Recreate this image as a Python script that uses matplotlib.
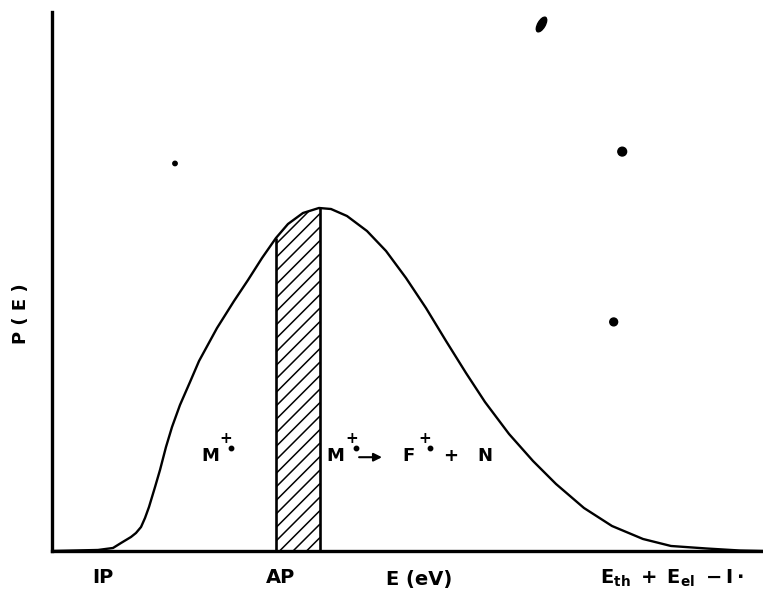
import numpy as np
import matplotlib
matplotlib.use("Agg")
import matplotlib.pyplot as plt
from matplotlib.markers import MarkerStyle
from matplotlib.transforms import Affine2D
from matplotlib.collections import LineCollection

# ---- data (arbitrary units: energy 0-100, probability 0-100) ----
energy = [0.0, 6.47, 8.58, 9.70, 11.11, 11.81, 12.52, 13.08, 13.64, 14.49, 15.19, 16.03,
          16.88, 18.00, 19.41, 20.68, 23.21, 25.60, 27.57, 29.54, 31.50, 33.19, 35.30,
          37.55, 39.24, 41.49, 44.30, 46.98, 49.79, 52.60, 55.42, 58.23, 60.90,
          64.28, 67.65, 70.89, 74.82, 78.76, 83.12, 87.06, 92.12, 96.77, 100.0]
prob = [0.0, 0.19, 0.56, 1.48, 2.60, 3.34, 4.45, 6.12, 8.16, 11.87, 15.03, 19.29,
        23.01, 27.09, 31.35, 35.25, 41.37, 46.38, 50.28, 54.36, 58.07, 60.67, 62.71,
        63.64, 63.45, 62.15, 59.37, 55.66, 50.65, 45.08, 38.96, 33.02, 27.64,
        21.71, 16.70, 12.43, 7.98, 4.64, 2.23, 0.93, 0.46, 0.09, 0.0]

band_lo, band_hi = 31.5, 37.7          # hatched AP window

tick_pos = [7.2, 32.2, 87.2]
tick_labels = ["IP", "AP", r"$\mathregular{E_{th}\ +\ E_{el}\ -I\cdot}$"]

speck_x = [17.3, 80.2, 79.0]
speck_y = [71.9, 74.1, 42.5]
speck_s = [10, 40, 32]
blot_x, blot_y = [68.8], [97.8]

E = np.array(energy)
P = np.array(prob)

fig = plt.figure(figsize=(7.63, 5.99), dpi=100)
ax = fig.add_axes([52 / 763, 48 / 599, 711 / 763, 539 / 599])
ax.set_xlim(0, 100)
ax.set_ylim(0, 100)

# curve
ax.plot(E, P, color="black", lw=1.7, solid_joinstyle="round", solid_capstyle="round", zorder=3)

# hatched band (45 degree lines clipped to the area under the curve)
mask = (E > band_lo) & (E < band_hi)
xs = np.concatenate([[band_lo], E[mask], [band_hi]])
ys = np.interp(xs, E, P)
poly = ax.fill_between(xs, 0, ys, facecolor="none", edgecolor="none", lw=0, zorder=2)
kx = 7.11 / 5.39                        # data slope for a 45 degree line on screen
rise = (band_hi - band_lo) * kx
offsets = np.arange(-rise, 70, 13.5 / 5.39)
segs = [[(band_lo, c), (band_hi, c + rise)] for c in offsets]
lc = LineCollection(segs, colors="black", linewidths=1.1, zorder=2)
ax.add_collection(lc)
lc.set_clip_path(poly.get_paths()[0], ax.transData)
ax.vlines([band_lo, band_hi], 0, np.interp([band_lo, band_hi], E, P), color="black", lw=1.9, zorder=3)

# specks of the scan
ax.scatter(speck_x, speck_y, s=speck_s, color="black", zorder=3)
blot = MarkerStyle("o", transform=Affine2D().scale(0.45, 1.0).rotate_deg(-30))
ax.scatter(blot_x, blot_y, s=140, marker=blot, color="black", zorder=3)

# spines
for side in ["top", "right"]:
    ax.spines[side].set_visible(False)
ax.spines["left"].set_linewidth(2.4)
ax.spines["bottom"].set_linewidth(2.4)

ax.set_yticks([])
ax.set_xticks(tick_pos)
ax.set_xticklabels(tick_labels, fontsize=14, fontweight="bold")
ax.tick_params(axis="x", length=0, pad=12)

ax.set_ylabel("P ( E )", fontsize=13, fontweight="bold")
ax.yaxis.set_label_coords(-0.031, 0.44)
ax.text(51.7, -5.2, "E (eV)", fontsize=14, fontweight="bold", ha="center", va="center",
        clip_on=False)

# annotations
fs = 13
sup_dx, sup_dy = 2.3, 2.9
txt = dict(fontsize=fs, fontweight="bold", ha="center", va="center")
sup = dict(fontsize=11, fontweight="bold", ha="center", va="center")
labels_x = [22.2, 39.8, 50.1]
labels_t = ["M", "M", "F"]
dots_x, dots_y = [], []
for lx, lt in zip(labels_x, labels_t):
    ax.text(lx, 17.6, lt, **txt)
    ax.text(lx + sup_dx, 17.6 + sup_dy + 0.4, "+", **sup)
    dots_x.append(lx + sup_dx + 0.7)
    dots_y.append(17.6 + sup_dy - 1.4)
ax.plot(dots_x, dots_y, "o", color="black", ms=3.2, zorder=3)
ax.annotate("", xy=(46.8, 17.4), xytext=(42.8, 17.4),
            arrowprops=dict(arrowstyle="-|>", color="black", lw=1.5, mutation_scale=12))
ax.text(56.0, 17.6, "+", **txt)
ax.text(60.9, 17.6, "N", **txt)

fig.savefig("out.png", dpi=100)
